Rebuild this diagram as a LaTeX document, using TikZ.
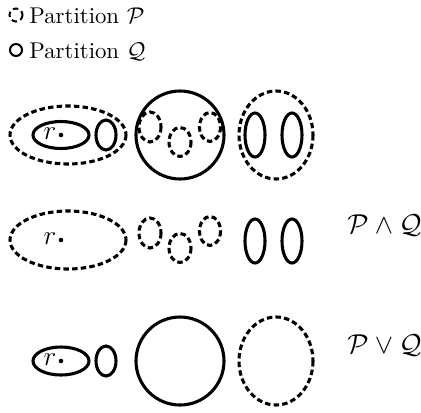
\documentclass[tikz,border=0pt]{standalone}
\begin{document}
\begin{tikzpicture}[x=0.4386pt,y=-0.4386pt,
  qset/.style={line width=1.35pt},
  pset/.style={line width=1.35pt, dash pattern=on 2.4pt off 1.4pt},
  lbl/.style={inner sep=0pt, anchor=base west},
  mlbl/.style={inner sep=0pt, anchor=base west, font=\large},
  rlbl/.style={inner sep=0pt, font=\large},
  dotpt/.style={fill=black}]
\useasboundingbox (0,0) rectangle (421,412);
% legend
\draw[line width=0.9pt, dash pattern=on 2.4pt off 1.6pt] (16,15) circle [radius=6.5];
\node[lbl] (legp) at (29,23) {Partition $\mathcal{P}$};
\draw[line width=0.9pt] (16,50) circle [radius=6];
\node[lbl] (legq) at (29,58) {Partition $\mathcal{Q}$};
% row 1
\draw[pset] (68,135) ellipse [x radius=58, y radius=29];
\draw[qset] (61,135) ellipse [x radius=28, y radius=13.5];
\node[rlbl] (r1) at (50,134) {$r$};
\fill[dotpt] (61,135) circle [radius=2.3];
\draw[qset] (106,135) ellipse [x radius=10, y radius=15];
\draw[qset] (180,135) circle [radius=44];
\draw[pset] (150,127) ellipse [x radius=11, y radius=15];
\draw[pset] (180,142) ellipse [x radius=11, y radius=14.5];
\draw[pset] (210,127) ellipse [x radius=10.5, y radius=14.5];
\draw[pset] (276,135) ellipse [x radius=37, y radius=44];
\draw[qset] (255,135) ellipse [x radius=10, y radius=22];
\draw[qset] (292,135) ellipse [x radius=10, y radius=22];
% row 2
\draw[pset] (68,240) ellipse [x radius=58, y radius=29];
\node[rlbl] (r2) at (50,239) {$r$};
\fill[dotpt] (61,240) circle [radius=2.3];
\draw[pset] (150,233) ellipse [x radius=11, y radius=15];
\draw[pset] (180,248) ellipse [x radius=11, y radius=14.5];
\draw[pset] (210,231) ellipse [x radius=10.5, y radius=14.5];
\draw[qset] (255,241) ellipse [x radius=10, y radius=22];
\draw[qset] (292,241) ellipse [x radius=10, y radius=22];
\node[mlbl] (meet) at (347,233) {$\mathcal{P}\wedge\mathcal{Q}$};
% row 3
\draw[qset] (61,361) ellipse [x radius=28, y radius=14];
\node[rlbl] (r3) at (50,360) {$r$};
\fill[dotpt] (61,361) circle [radius=2.3];
\draw[qset] (106,361) ellipse [x radius=10, y radius=15];
\draw[qset] (180,361) circle [radius=44];
\draw[pset] (276,361) ellipse [x radius=37, y radius=44];
\node[mlbl] (join) at (347,353) {$\mathcal{P}\vee\mathcal{Q}$};
\end{tikzpicture}
\end{document}
